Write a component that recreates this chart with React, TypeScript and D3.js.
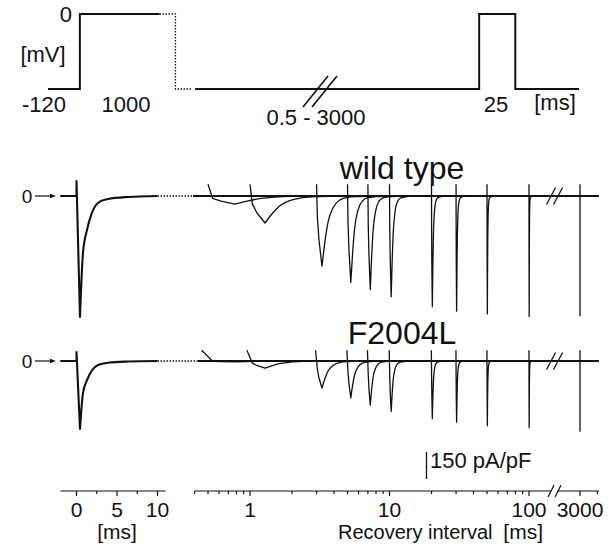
import React from 'react';
import * as d3 from 'd3';

const W = 615, H = 556;

// Recovery intervals (ms) of the test pulses
const intervals = [0.5, 1, 3, 5, 7, 10, 20, 30, 50, 100, 3000];
// Peak test-pulse current (pA/pF)
const wtPeaks = [45, 150, 390, 480, 520, 560, 615, 640, 655, 670, 665];
const f2004lPeaks = [5, 40, 150, 205, 245, 280, 320, 340, 360, 370, 390];
// Conditioning-pulse peak current (pA/pF)
const wtCondPeak = 672;
const f2004lCondPeak = 378;
// capacitive transients (pA/pF)
const wtTestCap = 65, f2004lTestCap = 60;
const wtCondCap = 83, f2004lCondCap = 50;

// normalised time course of a test current (ms after test onset)
const testShapeT = [0.04, 0.12, 0.28, 0.45, 0.62, 0.93, 1.42, 2, 3, 5];
const testShapeI = [-0.3, -0.62, -1, -0.64, -0.38, -0.17, -0.055, -0.02, -0.008, 0];
// normalised time course of the conditioning current (ms)
const condShapeT = [0.43, 0.8, 1.3, 1.9, 2.65, 3.9, 6.4, 10];
const condShapeI = [-1, -0.47, -0.28, -0.14, -0.058, -0.025, -0.008, 0];

// protocol (schematic units 0..100, mV)
const protoSolid1: [number, number][] = [[0, -120], [6, -120], [6, 0], [21, 0]];
const protoDotted: [number, number][] = [[21, 0], [24, 0], [24, -120], [27.1, -120]];
const protoSolid2: [number, number][] = [[27.7, -120], [81.2, -120], [81.2, 0], [88, 0], [88, -120], [100, -120]];

// axis ticks
const linMajor = [0, 5, 10];
const linMinor = [2.5, 7.5];
const logMajor = [1, 10, 100, 3000];
const logMinor = [0.4, 0.5, 0.6, 0.7, 0.8, 0.9, 2, 3, 4, 5, 6, 7, 8, 9, 20, 30, 40, 50, 60, 70, 80, 90, 4000];

const font = "'Liberation Sans', Arial, Helvetica, sans-serif";
const ink = '#111';

export default function App() {
  const condX = d3.scaleLinear().domain([0, 10]).range([76.5, 157.5]);
  const logX = d3.scaleLog().domain([1, 100]).range([250, 529]);
  const logX2 = d3.scaleLog().domain([3000, 30000]).range([580, 719.5]);
  const xT = (t: number) => (t >= 1000 ? logX2(t) : logX(t));
  const protoX = d3.scaleLinear().domain([0, 100]).range([48, 579]);
  const protoY = d3.scaleLinear().domain([-120, 0]).range([89, 14]);

  const lin = d3.line<[number, number]>();
  const mono = d3.line<[number, number]>().curve(d3.curveMonotoneX);

  const panels = [
    { name: 'wild type', y: d3.scaleLinear().domain([0, -150]).range([196, 223]), peaks: wtPeaks, cond: wtCondPeak, cap: wtTestCap, condCap: wtCondCap, lead: 0, dotEnd: 0.39, labelY: 179 },
    { name: 'F2004L', y: d3.scaleLinear().domain([0, -150]).range([361, 388]), peaks: f2004lPeaks, cond: f2004lCondPeak, cap: f2004lTestCap, condCap: f2004lCondCap, lead: 0.05, dotEnd: 0.42, labelY: 344 },
  ];

  const testPath = (T: number, A: number, cap: number, lead: number, y: d3.ScaleLinear<number, number>) => {
    const x0 = xT(T - lead);
    const pre: [number, number][] = [[x0, y(cap)]];
    const post: [number, number][] = [];
    testShapeT.forEach((tp, k) => {
      const p: [number, number] = [xT(T + tp), y(A * testShapeI[k])];
      if (tp <= 0.28) pre.push(p);
      if (tp >= 0.28) post.push(p);
    });
    return (lin(pre) || '') + (mono(post) || '').replace(/^M/, 'L');
  };

  const condPath = (A: number, cap: number, y: d3.ScaleLinear<number, number>) => {
    const pre: [number, number][] = [[condX(-2), y(0)], [condX(0), y(0)], [condX(0), y(cap)], [condX(condShapeT[0]), y(-A)]];
    const post: [number, number][] = condShapeT.map((t, k) => [condX(t), y(A * condShapeI[k])]);
    return (lin(pre) || '') + (mono(post) || '').replace(/^M/, 'L');
  };

  const axisY = 491;
  const breakX = xT(150);

  const breakMark = (cx: number, cy: number, dx: number, dy: number, gap: number, key: string, sw = 1.3) => (
    <g key={key} stroke={ink} strokeWidth={sw}>
      <line x1={cx - gap / 2 - dx} y1={cy + dy} x2={cx - gap / 2 + dx} y2={cy - dy} />
      <line x1={cx + gap / 2 - dx} y1={cy + dy} x2={cx + gap / 2 + dx} y2={cy - dy} />
    </g>
  );

  return (
    <svg width={W} height={H} style={{ position: 'absolute', left: 0, top: 0, background: '#fff' }} fontFamily={font}>
      <rect width={W} height={H} fill="#fff" />

      {/* Protocol */}
      <g fill="none" stroke={ink} strokeWidth={2}>
        <path d={lin(protoSolid1.map(([a, b]) => [protoX(a), protoY(b)] as [number, number])) || ''} />
        <path d={lin(protoDotted.map(([a, b]) => [protoX(a), protoY(b)] as [number, number])) || ''} strokeDasharray="1.5,1.5" strokeWidth={1.3} />
        <path d={lin(protoSolid2.map(([a, b]) => [protoX(a), protoY(b)] as [number, number])) || ''} />
      </g>
      <g stroke={ink} strokeWidth={1.6}>
        <line x1={303} y1={107} x2={328} y2={76} />
        <line x1={312} y1={107} x2={337} y2={76} />
      </g>
      <g fill={ink} fontSize={22}>
        <text x={72} y={22} textAnchor="end">0</text>
        <text x={43} y={62} textAnchor="middle">[mV]</text>
        <text x={44} y={112} textAnchor="middle">-120</text>
        <text x={126} y={112} textAnchor="middle">1000</text>
        <text x={316} y={125} textAnchor="middle">0.5 - 3000</text>
        <text x={496} y={112} textAnchor="middle">25</text>
        <text x={555} y={110} textAnchor="middle">[ms]</text>
      </g>

      {/* Current panels */}
      {panels.map((p) => {
        const y0 = p.y(0);
        return (
          <g key={p.name}>
            <text x={402} y={p.labelY} fontSize={32} textAnchor="middle" fill={ink}>{p.name}</text>
            <text x={27} y={y0 + 7} fontSize={19} textAnchor="middle" fill={ink}>0</text>
            <line x1={35} y1={y0} x2={50} y2={y0} stroke={ink} strokeWidth={1.2} />
            <path d={`M${50},${y0 - 2.2}L${56},${y0}L${50},${y0 + 2.2}Z`} fill={ink} />
            {/* conditioning trace */}
            <path d={condPath(p.cond, p.condCap, p.y)} fill="none" stroke={ink} strokeWidth={2.1} strokeLinejoin="round" />
            {/* gap */}
            <line x1={condX(10)} y1={y0} x2={xT(p.dotEnd)} y2={y0} stroke={ink} strokeWidth={1.4} strokeDasharray="1.5,1.5" />
            {/* baseline */}
            <line x1={xT(p.dotEnd)} y1={y0} x2={xT(4100)} y2={y0} stroke={ink} strokeWidth={2} />
            {intervals.map((T, i) => (
              <path key={T} d={testPath(T, p.peaks[i], p.cap, p.lead, p.y)} fill="none" stroke={ink} strokeWidth={1.3} strokeLinejoin="round" />
            ))}
            {breakMark(breakX + 1, y0, 4.5, 8.5, 7, 'b' + p.name)}
          </g>
        );
      })}

      {/* scale bar */}
      <line x1={426.5} y1={452} x2={426.5} y2={452 + (panels[0].y(-150) - panels[0].y(0))} stroke={ink} strokeWidth={1.3} />
      <text x={430} y={468} fontSize={22} fill={ink}>150 pA/pF</text>

      {/* linear time axis */}
      <g stroke={ink} strokeWidth={1.2}>
        <line x1={condX(-2)} y1={axisY} x2={condX(11)} y2={axisY} />
        {linMajor.map((t) => <line key={'M' + t} x1={condX(t)} y1={axisY} x2={condX(t)} y2={axisY + 5} />)}
        {linMinor.map((t) => <line key={'m' + t} x1={condX(t)} y1={axisY} x2={condX(t)} y2={axisY + 3} />)}
      </g>
      <g fill={ink} fontSize={21} textAnchor="middle">
        {linMajor.map((t) => <text key={t} x={condX(t)} y={517}>{t}</text>)}
        <text x={condX(5)} y={539}>[ms]</text>
      </g>

      {/* log recovery-interval axis */}
      <g stroke={ink} strokeWidth={1.2}>
        <line x1={xT(0.4)} y1={axisY} x2={breakX - 2.5} y2={axisY} />
        <line x1={breakX + 4.5} y1={axisY} x2={xT(4100)} y2={axisY} />
        {logMajor.map((t) => <line key={'M' + t} x1={xT(t)} y1={axisY} x2={xT(t)} y2={axisY + 5} />)}
        {logMinor.map((t) => <line key={'m' + t} x1={xT(t)} y1={axisY} x2={xT(t)} y2={axisY + 3} />)}
      </g>
      {breakMark(breakX + 1, axisY, 3, 6, 7, 'axb', 1.2)}
      <g fill={ink} fontSize={21} textAnchor="middle">
        {logMajor.map((t) => <text key={t} x={xT(t)} y={517}>{t}</text>)}
      </g>
      <text x={338} y={539} fontSize={20} fill={ink}>Recovery interval</text>
      <text x={543} y={539} fontSize={21} fill={ink} textAnchor="end">[ms]</text>
    </svg>
  );
}
